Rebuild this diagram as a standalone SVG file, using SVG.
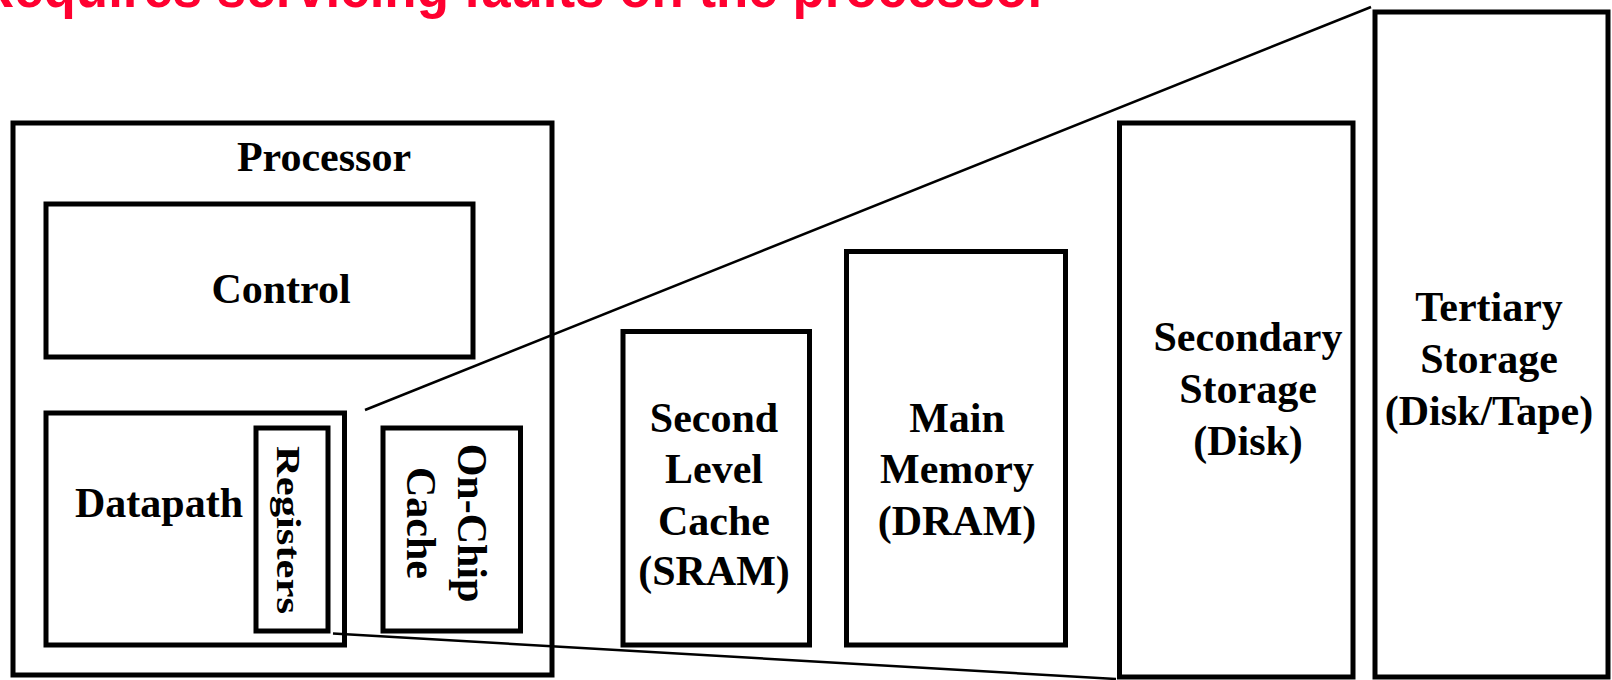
<svg xmlns="http://www.w3.org/2000/svg" width="1612" height="680" viewBox="0 0 1612 680">
<style>
.box{fill:none;stroke:#000;stroke-width:5}
.lbl{font-family:"Liberation Serif","Times New Roman",serif;font-weight:bold;font-size:42px;fill:#000;text-anchor:middle}
.con{stroke:#000;stroke-width:2.5;fill:none}
.note{font-family:"Liberation Sans",Arial,sans-serif;font-weight:bold;font-size:56px;fill:#ff0030}
</style>
<rect width="1612" height="680" fill="#fff"/>
<text class="note" x="-24" y="7" textLength="1072" lengthAdjust="spacingAndGlyphs">Requires servicing faults on the processor</text>
<g id="connectors">
<line class="con" x1="365" y1="410" x2="1371" y2="7"/>
<line class="con" x1="333" y1="633.5" x2="1116" y2="679"/>
</g>
<g id="processor">
<rect class="box" x="13" y="123" width="539" height="552"/>
<text class="lbl" x="324" y="171">Processor</text>
</g>
<g id="control">
<rect class="box" x="46" y="204" width="427" height="153"/>
<text class="lbl" x="281" y="303">Control</text>
</g>
<g id="datapath">
<rect class="box" x="46" y="413" width="298.5" height="232"/>
<text class="lbl" x="159" y="517">Datapath</text>
</g>
<g id="registers">
<rect class="box" x="256" y="428" width="72" height="203"/>
<text class="lbl" transform="translate(277 530) rotate(90)" x="0" y="0" style="font-size:34px" textLength="168" lengthAdjust="spacingAndGlyphs">Registers</text>
</g>
<g id="onchip-cache">
<rect class="box" x="383" y="428" width="137.5" height="203"/>
<text class="lbl" transform="translate(458 523) rotate(90)" x="0" y="0">On-Chip</text>
<text class="lbl" transform="translate(407 523) rotate(90)" x="0" y="0">Cache</text>
</g>
<g id="second-level-cache">
<rect class="box" x="623" y="331.5" width="186.5" height="313.5"/>
<text class="lbl" x="714" y="432">Second</text>
<text class="lbl" x="714" y="483">Level</text>
<text class="lbl" x="714" y="535">Cache</text>
<text class="lbl" x="714" y="585">(SRAM)</text>
</g>
<g id="main-memory">
<rect class="box" x="846.5" y="251.5" width="219" height="393.5"/>
<text class="lbl" x="957" y="432">Main</text>
<text class="lbl" x="957" y="483">Memory</text>
<text class="lbl" x="957" y="535">(DRAM)</text>
</g>
<g id="secondary-storage">
<rect class="box" x="1119.5" y="123" width="233.5" height="554"/>
<text class="lbl" x="1248" y="351">Secondary</text>
<text class="lbl" x="1248" y="403">Storage</text>
<text class="lbl" x="1248" y="455">(Disk)</text>
</g>
<g id="tertiary-storage">
<rect class="box" x="1375" y="12" width="233" height="665"/>
<text class="lbl" x="1489" y="321">Tertiary</text>
<text class="lbl" x="1489" y="373">Storage</text>
<text class="lbl" x="1489" y="425">(Disk/Tape)</text>
</g>
</svg>
